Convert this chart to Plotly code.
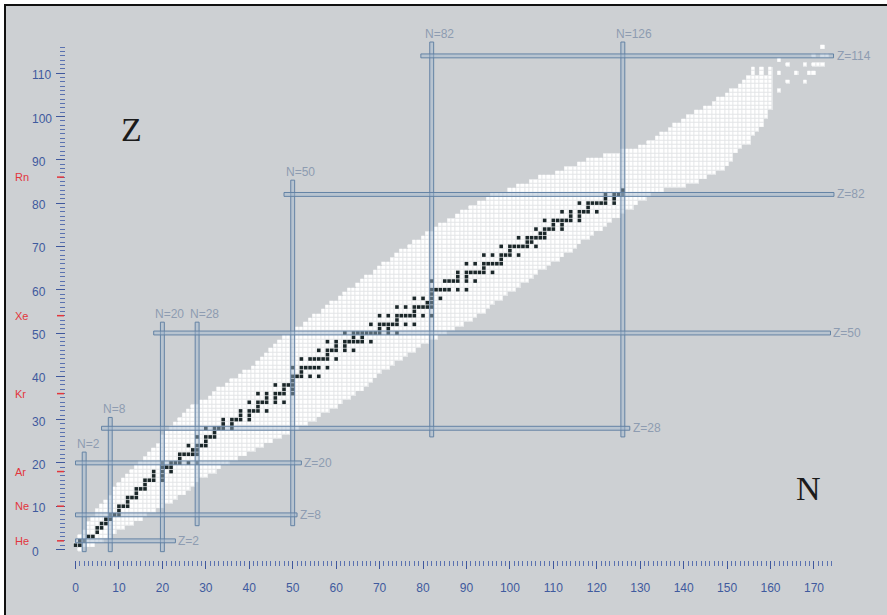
import plotly.graph_objects as go

# ---------------------------------------------------------------------------
# Known nuclides: for each proton number Z = 0, 1, 2, ... the lightest and the
# heaviest observed neutron number N (continuous band of the chart).
band_min_n = [
    1, 0, 1, 1, 2, 3, 3, 4, 5, 5,            # Z 0-9
    6, 7, 8, 9, 9, 10, 11, 12, 13, 14,       # Z 10-19
    15, 16, 17, 18, 19, 20, 20, 21, 22, 23,  # Z 20-29
    24, 25, 26, 27, 29, 31, 32, 33, 35, 36,  # Z 30-39
    38, 39, 41, 42, 43, 44, 45, 46, 47, 48,  # Z 40-49
    50, 51, 53, 54, 55, 57, 58, 59, 61, 62,  # Z 50-59
    63, 65, 66, 67, 69, 70, 71, 73, 74, 75,  # Z 60-69
    77, 78, 80, 81, 83, 84, 86, 88, 89, 91,  # Z 70-79
    93, 95, 96, 100, 102, 105, 107, 111, 113, 116,     # Z 80-89
    118, 122, 126, 130, 132, 134, 135, 137, 138, 140,  # Z 90-99
    141, 143, 145, 147, 148, 150, 151, 153, 154, 155,  # Z 100-109
]
band_max_n = [
    1, 4, 6, 8, 9, 11, 13, 15, 16, 18,       # Z 0-9
    20, 22, 23, 25, 26, 27, 28, 30, 32, 33,  # Z 10-19
    35, 37, 39, 41, 43, 45, 47, 49, 51, 53,  # Z 20-29
    55, 56, 58, 60, 61, 63, 64, 66, 67, 68,  # Z 30-39
    69, 70, 72, 73, 75, 76, 78, 79, 81, 83,  # Z 40-49
    85, 87, 89, 91, 92, 94, 95, 96, 98, 99,  # Z 50-59
    101, 102, 104, 105, 106, 108, 109, 111, 112, 114,  # Z 60-69
    115, 116, 118, 119, 121, 122, 123, 125, 126, 128,  # Z 70-79
    129, 131, 132, 135, 140, 143, 145, 147, 149, 150,  # Z 80-89
    151, 151, 152, 153, 155, 155, 156, 157, 158, 158,  # Z 90-99
    159, 159, 160, 160, 160, 160, 160, 160, 160, 160,  # Z 100-109
]

# Isolated superheavy nuclides above the band
superheavy_z = [110, 111, 110, 111, 110, 111, 113, 112, 110, 108, 106,
                110, 112, 108, 112, 112, 112, 110, 110, 114, 114, 114, 116]
superheavy_n = [156, 156, 158, 158, 160, 160, 162, 164, 162, 164, 162,
                166, 168, 168, 170, 171, 172, 169, 170, 170, 172, 173, 172]

# Stable nuclides (Z, N), one element per group
stable_z = (
    [1] * 2 + [2] * 2 + [3] * 2 + [4] + [5] * 2 + [6] * 2 + [7] * 2 + [8] * 3
    + [9] + [10] * 3 + [11] + [12] * 3 + [13] + [14] * 3 + [15] + [16] * 4
    + [17] * 2 + [18] * 3 + [19] * 3 + [20] * 6 + [21] + [22] * 5 + [23] * 2
    + [24] * 4 + [25] + [26] * 4 + [27] + [28] * 5 + [29] * 2 + [30] * 5
    + [31] * 2 + [32] * 5 + [33] + [34] * 6 + [35] * 2 + [36] * 6 + [37] * 2
    + [38] * 4 + [39] + [40] * 5 + [41] + [42] * 7 + [44] * 7 + [45]
    + [46] * 6 + [47] * 2 + [48] * 8 + [49] * 2 + [50] * 10 + [51] * 2
    + [52] * 8 + [53] + [54] * 9 + [55] + [56] * 7 + [57] * 2 + [58] * 4
    + [59] + [60] * 7 + [62] * 7 + [63] * 2 + [64] * 7 + [65] + [66] * 7
    + [67] + [68] * 6 + [69] + [70] * 7 + [71] * 2 + [72] * 6 + [73] * 2
    + [74] * 5 + [75] * 2 + [76] * 7 + [77] * 2 + [78] * 6 + [79] + [80] * 7
    + [81] * 2 + [82] * 4 + [83]
)
stable_n = (
    [0, 1] + [1, 2] + [3, 4] + [5] + [5, 6] + [6, 7] + [7, 8] + [8, 9, 10]
    + [10] + [10, 11, 12] + [12] + [12, 13, 14] + [14] + [14, 15, 16] + [16]
    + [16, 17, 18, 20] + [18, 20] + [18, 20, 22] + [20, 21, 22]
    + [20, 22, 23, 24, 26, 28] + [24] + [24, 25, 26, 27, 28] + [27, 28]
    + [26, 28, 29, 30] + [30] + [28, 30, 31, 32] + [32] + [30, 32, 33, 34, 36]
    + [34, 36] + [34, 36, 37, 38, 40] + [38, 40] + [38, 40, 41, 42, 44] + [42]
    + [40, 42, 43, 44, 46, 48] + [44, 46] + [42, 44, 46, 47, 48, 50] + [48, 50]
    + [46, 48, 49, 50] + [50] + [50, 51, 52, 54, 56] + [52]
    + [50, 52, 53, 54, 55, 56, 58] + [52, 54, 55, 56, 57, 58, 60] + [58]
    + [56, 58, 59, 60, 62, 64] + [60, 62] + [58, 60, 62, 63, 64, 65, 66, 68]
    + [64, 66] + [62, 64, 65, 66, 67, 68, 69, 70, 72, 74] + [70, 72]
    + [68, 70, 71, 72, 73, 74, 76, 78] + [74]
    + [70, 72, 74, 75, 76, 77, 78, 80, 82] + [78]
    + [74, 76, 78, 79, 80, 81, 82] + [81, 82] + [78, 80, 82, 84] + [82]
    + [82, 83, 84, 85, 86, 88, 90] + [82, 85, 86, 87, 88, 90, 92] + [88, 90]
    + [88, 90, 91, 92, 93, 94, 96] + [94] + [90, 92, 94, 95, 96, 97, 98] + [98]
    + [94, 96, 98, 99, 100, 102] + [100] + [98, 100, 101, 102, 103, 104, 106]
    + [104, 105] + [102, 104, 105, 106, 107, 108] + [107, 108]
    + [106, 108, 109, 110, 112] + [110, 112]
    + [108, 110, 111, 112, 113, 114, 116] + [114, 116]
    + [112, 114, 116, 117, 118, 120] + [118]
    + [116, 118, 119, 120, 121, 122, 124] + [122, 124] + [122, 124, 125, 126]
    + [126]
)

# Magic numbers: vertical lines N = const (Z extent) and horizontal lines
# Z = const (N extent)
magic_n = [2, 8, 20, 28, 50, 82, 126]
magic_n_z_from = [-0.5, -0.5, -0.5, 5.5, 5.5, 26.0, 26.0]
magic_n_z_to = [22.5, 30.5, 52.5, 52.5, 85.3, 117.2, 117.2]
magic_z = [2, 8, 20, 28, 50, 82, 114]
magic_z_n_from = [0.0, 0.0, 0.0, 6.0, 18.0, 48.0, 79.5]
magic_z_n_to = [23.0, 51.0, 52.0, 127.6, 173.8, 174.6, 174.5]

# Noble gases marked on the Z axis
noble_symbols = ["He", "Ne", "Ar", "Kr", "Xe", "Rn"]
noble_z = [2, 10, 18, 36, 54, 86]

# Axis ticks
x_major = list(range(0, 171, 10))
x_minor = list(range(0, 175))
y_major = list(range(0, 111, 10))
y_minor = list(range(0, 117))

# ---------------------------------------------------------------------------
W, H = 887, 615
ML, MR, MT, MB = 66, 5, 10, 55
PW, PH = W - ML - MR, H - MT - MB
PX_N, PX_Z = 4.344, 4.33          # pixels per unit on each axis
X0 = -9.5 / PX_N                   # N at the left edge of the plot area
Y0 = -10.5 / PX_Z                  # Z at the bottom edge of the plot area

BG = "#cdd0d3"
TICK_TXT = "#3f5a9e"
TICK_MAJOR = "#3f579c"
TICK_MINOR = "#5b72b0"
MAGIC_TXT = "#8e9cb1"
NOBLE_RED = "#e2363c"

n_cols = 178
n_rows = 118
grid = [[None] * n_cols for _ in range(n_rows)]
for z, (lo, hi) in enumerate(zip(band_min_n, band_max_n)):
    for n in range(lo, hi + 1):
        grid[z][n] = 1
for z, n in zip(superheavy_z, superheavy_n):
    grid[z][n] = 1

fig = go.Figure()

# soft underlay so the cell separators read lighter than the background
fig.add_trace(go.Heatmap(
    z=grid, x=list(range(n_cols)), y=list(range(n_rows)),
    colorscale=[[0, "rgba(255,255,255,0.45)"], [1, "rgba(255,255,255,0.45)"]],
    zmin=0, zmax=1, showscale=False, hoverinfo="skip",
))
fig.add_trace(go.Heatmap(
    z=grid, x=list(range(n_cols)), y=list(range(n_rows)),
    colorscale=[[0, "#ffffff"], [1, "#ffffff"]],
    zmin=0, zmax=1, xgap=1, ygap=1, showscale=False, hoverinfo="skip",
))
fig.add_trace(go.Scatter(
    x=stable_n, y=stable_z, mode="markers",
    marker=dict(symbol="square", size=3.6, color="#1b2729",
                line=dict(width=0)),
    hoverinfo="skip", showlegend=False,
))

shapes = []
line_style = dict(color="rgba(96,128,162,0.95)", width=1)
fill_style = "rgba(160,182,205,0.45)"
annotations = []
label_font = dict(family="Liberation Sans, Arial", size=12, color=MAGIC_TXT)
tick_font = dict(family="Liberation Sans, Arial", size=12, color=TICK_TXT)

for n, z0, z1 in zip(magic_n, magic_n_z_from, magic_n_z_to):
    shapes.append(dict(type="rect", xref="x", yref="y",
                       x0=n - 0.45, x1=n + 0.45, y0=z0, y1=z1,
                       line=line_style, fillcolor=fill_style, layer="above"))
    annotations.append(dict(x=n, y=z1, xref="x", yref="y", text=f"N={n}",
                            showarrow=False, xanchor="left", yanchor="bottom",
                            xshift=-9, yshift=-1, font=label_font))

for z, n0, n1 in zip(magic_z, magic_z_n_from, magic_z_n_to):
    shapes.append(dict(type="rect", xref="x", yref="y",
                       x0=n0, x1=n1, y0=z - 0.45, y1=z + 0.45,
                       line=line_style, fillcolor=fill_style, layer="above"))
    annotations.append(dict(x=n1, y=z, xref="x", yref="y", text=f"Z={z}",
                            showarrow=False, xanchor="left", yanchor="middle",
                            xshift=1, font=label_font))

# Z axis numbers are set flush left in a column beside the ticks
for v in y_major:
    annotations.append(dict(x=0, y=v, xref="paper", yref="y", text=str(v),
                            showarrow=False, xanchor="left", yanchor="middle",
                            xshift=30 - ML, yshift=-2, font=tick_font))

# noble gas markers on the Z axis
for sym, z in zip(noble_symbols, noble_z):
    shapes.append(dict(type="line", xref="paper", yref="y",
                       x0=(57 - ML) / PW, x1=(64 - ML) / PW, y0=z, y1=z,
                       line=dict(color=NOBLE_RED, width=1.5)))
    annotations.append(dict(x=0, y=z, xref="paper", yref="y", text=sym,
                            showarrow=False, xanchor="left", yanchor="middle",
                            xshift=13 - ML,
                            font=dict(family="Liberation Sans, Arial", size=11,
                                      color=NOBLE_RED)))

# big axis letters
for txt, xv, yv in [("Z", 12.9, 96.9), ("N", 168.7, 14.2)]:
    annotations.append(dict(x=xv, y=yv, xref="x", yref="y", text=txt,
                            showarrow=False, xanchor="center", yanchor="middle",
                            font=dict(family="Liberation Serif, Times New Roman",
                                      size=34, color="#1b1b1b")))


def px_x(p):
    return (p - ML) / PW


def px_y(p):
    return 1 - (p - MT) / PH


# picture frame: white edge, black rule on top and left
shapes.append(dict(type="rect", xref="paper", yref="paper",
                   x0=px_x(0), x1=px_x(W), y0=px_y(4), y1=px_y(0),
                   line=dict(width=0), fillcolor="white"))
shapes.append(dict(type="rect", xref="paper", yref="paper",
                   x0=px_x(0), x1=px_x(4), y0=px_y(H), y1=px_y(0),
                   line=dict(width=0), fillcolor="white"))
shapes.append(dict(type="rect", xref="paper", yref="paper",
                   x0=px_x(4), x1=px_x(W), y0=px_y(6), y1=px_y(4),
                   line=dict(width=0), fillcolor="#111111"))
shapes.append(dict(type="rect", xref="paper", yref="paper",
                   x0=px_x(4), x1=px_x(6), y0=px_y(H), y1=px_y(4),
                   line=dict(width=0), fillcolor="#111111"))

fig.update_layout(
    width=W, height=H,
    margin=dict(l=ML, r=MR, t=MT, b=MB, pad=0),
    paper_bgcolor=BG, plot_bgcolor=BG,
    showlegend=False,
    shapes=shapes, annotations=annotations,
    xaxis=dict(
        range=[X0, X0 + PW / PX_N], showgrid=False, zeroline=False,
        showline=False, tickmode="array", tickvals=x_major,
        ticktext=[str(v) for v in x_major], ticks="outside", ticklen=8,
        tickwidth=1, tickcolor=TICK_MAJOR, tickfont=tick_font,
        ticklabelstandoff=9,
        minor=dict(tickmode="array", tickvals=x_minor, ticks="outside",
                   ticklen=5, tickwidth=1, tickcolor=TICK_MINOR,
                   showgrid=False),
    ),
    yaxis=dict(
        range=[Y0, Y0 + PH / PX_Z], showgrid=False, zeroline=False,
        showline=False, tickmode="array", tickvals=y_major,
        showticklabels=False, ticks="outside", ticklen=9,
        tickwidth=1, tickcolor=TICK_MAJOR,
        minor=dict(tickmode="array", tickvals=y_minor, ticks="outside",
                   ticklen=5, tickwidth=1, tickcolor=TICK_MINOR,
                   showgrid=False),
    ),
)

fig.write_html("out.html")
